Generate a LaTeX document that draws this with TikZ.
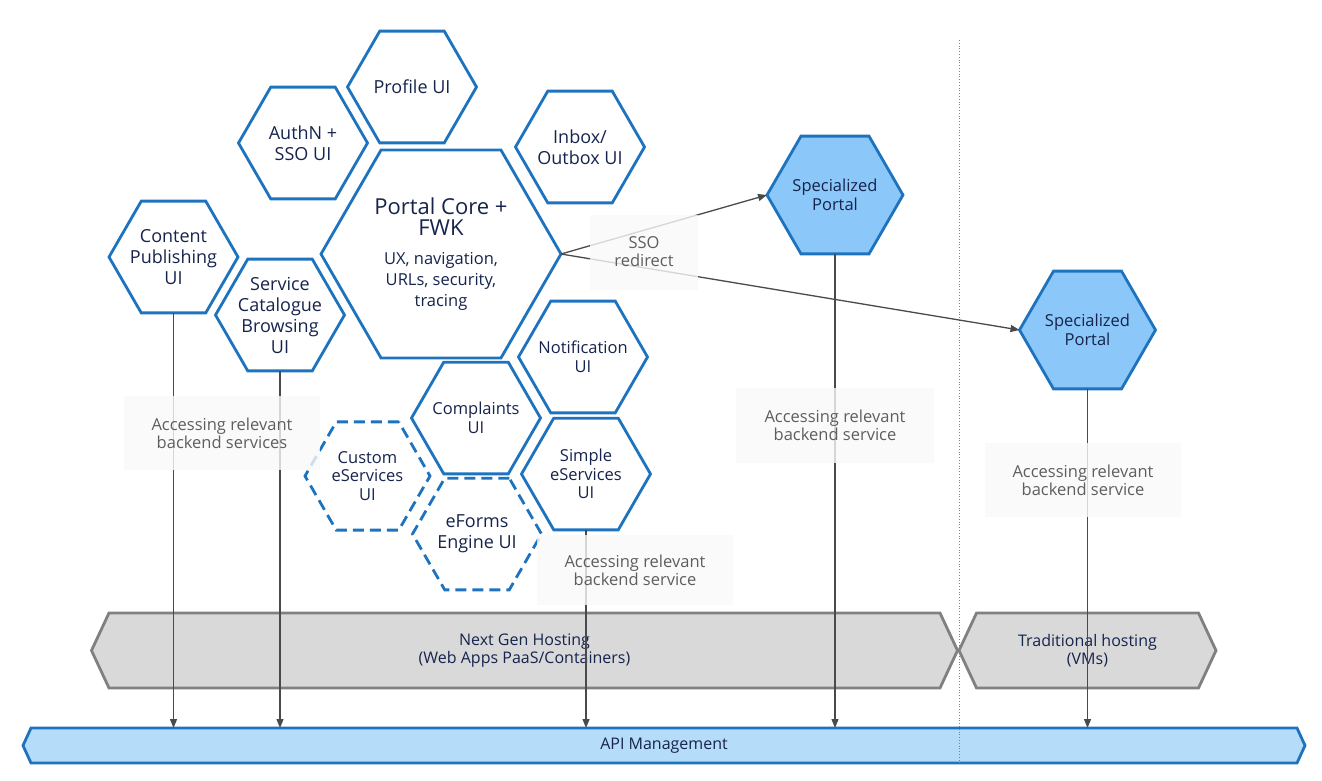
\documentclass[tikz,border=0pt]{standalone}
\usepackage{fontspec}
\setmainfont{Open Sans}
\usetikzlibrary{shapes.geometric,arrows.meta,backgrounds}
\definecolor{hexblue}{HTML}{1E73BE}
\definecolor{portalfill}{HTML}{8BC7F8}
\definecolor{apifill}{HTML}{B5DCF9}
\definecolor{hostfill}{HTML}{D9D9D9}
\definecolor{hostline}{HTML}{808080}
\definecolor{navytext}{HTML}{16244D}
\definecolor{notegray}{HTML}{5E5E5E}
\definecolor{arrowgray}{HTML}{4A4A4A}
\newcommand{\bigline}{\fontsize{22}{24.5}\selectfont}
\newcommand{\subline}{\fontsize{16.5}{19.5}\selectfont}

\begin{document}
\begin{tikzpicture}[x=1pt, y=-1pt,
  hexa/.style={regular polygon, regular polygon sides=6, draw=hexblue, line width=2.8pt,
    inner sep=-6pt, outer sep=0pt, minimum size=129pt, align=center, text=navytext,
    font=\fontsize{18}{21}\selectfont},
  smalltext/.style={font=\fontsize{16.5}{18.5}\selectfont},
  dashhexa/.style={hexa, dash pattern=on 11pt off 6pt},
  portal/.style={hexa, fill=portalfill, minimum size=136pt, smalltext},
  arr/.style={draw=arrowgray, line width=1.3pt, -{Triangle[length=9pt,width=7pt]}},
  note/.style={fill=gray!5, fill opacity=0.8, text opacity=1, text=notegray, align=center,
    inner sep=0pt, font=\fontsize{16.5}{18}\selectfont},
  barlabel/.style={align=center, text=navytext, inner sep=0pt, outer sep=0pt,
    font=\fontsize{16}{18}\selectfont},
  hostbar/.style={fill=hostfill, draw=hostline, line width=2.8pt, line join=miter},
  apibar/.style={fill=apifill, draw=hexblue, line width=2.8pt, line join=miter}]
\useasboundingbox (0,0) rectangle (1322,780);

\node[hexa] (profile) at (412,87) {Profile UI};
\node[hexa] (authn) at (303,143) {AuthN +\\SSO UI};
\node[hexa] (inbox) at (580,147) {Inbox/\\Outbox UI};
\node[hexa, minimum size=240pt] (core) at (441,254) {\bigline Portal Core +\\\bigline FWK\\[8pt]
  \subline UX, navigation,\\\subline URLs, security,\\\subline tracing};
\node[hexa] (content) at (173.5,257) {Content\\Publishing\\UI};
\node[hexa] (catalogue) at (280,315) {Service\\Catalogue\\Browsing\\UI};
\node[hexa, smalltext] (notify) at (583,357) {Notification\\UI};
\node[hexa, smalltext] (complaints) at (476,418) {Complaints\\UI};
\node[hexa, smalltext] (simple) at (586,474) {Simple\\eServices\\UI};
\node[dashhexa, smalltext, minimum size=125pt] (custom) at (367.5,476) {Custom\\eServices\\UI};
\node[dashhexa] (eforms) at (477,534) {eForms\\Engine UI};
\node[portal] (spone) at (835,195) {Specialized\\Portal};
\node[portal] (sptwo) at (1087.5,330) {Specialized\\Portal};

\node[barlabel, minimum width=831pt, minimum height=75pt] (nextgen) at (524.5,650.5) {Next Gen Hosting\\(Web Apps PaaS/Containers)};
\node[barlabel, minimum width=222pt, minimum height=75pt] (trad) at (1087.5,650.5) {Traditional hosting\\(VMs)};
\node[barlabel, minimum width=1266pt, minimum height=35pt] (api) at (664,745.5) {API Management};
\begin{scope}[on background layer]
\draw[hostbar] ([xshift=-17.5pt]nextgen.west) -- (nextgen.north west) -- (nextgen.north east)
  -- ([xshift=17.5pt]nextgen.east) -- (nextgen.south east) -- (nextgen.south west) -- cycle;
\draw[hostbar] ([xshift=-17.5pt]trad.west) -- (trad.north west) -- (trad.north east)
  -- ([xshift=17.5pt]trad.east) -- (trad.south east) -- (trad.south west) -- cycle;
\draw[apibar] ([xshift=-8pt]api.west) -- (api.north west) -- (api.north east)
  -- ([xshift=8pt]api.east) -- (api.south east) -- (api.south west) -- cycle;
\end{scope}

\coordinate (divtop) at (959,40);
\coordinate (divbot) at (959,765);
\draw[gray, dotted, line width=0.8pt] (divtop) -- (divbot);

\draw[arr] (core.east) -- (spone.west);
\draw[arr] (core.east) -- (sptwo.west);
\draw[arr] (content.south) -- (content.south |- api.north);
\draw[arr] (catalogue.south) -- (catalogue.south |- api.north);
\draw[arr] (simple.south) -- (simple.south |- api.north);
\draw[arr] (spone.south) -- (spone.south |- api.north);
\draw[arr] (sptwo.south) -- (sptwo.south |- api.north);

\node[note, minimum width=108pt, minimum height=75pt] (sso) at (644,252) {SSO\\redirect};
\node[note, minimum width=196pt, minimum height=74pt] (accleft) at (222,433) {Accessing relevant\\backend services};
\node[note, minimum width=196pt, minimum height=70pt] (accsimple) at (635,570) {Accessing relevant\\backend service};
\node[note, minimum width=198pt, minimum height=75pt] (accone) at (835,425.5) {Accessing relevant\\backend service};
\node[note, minimum width=196pt, minimum height=74pt] (acctwo) at (1083,480) {Accessing relevant\\backend service};
\end{tikzpicture}
\end{document}
